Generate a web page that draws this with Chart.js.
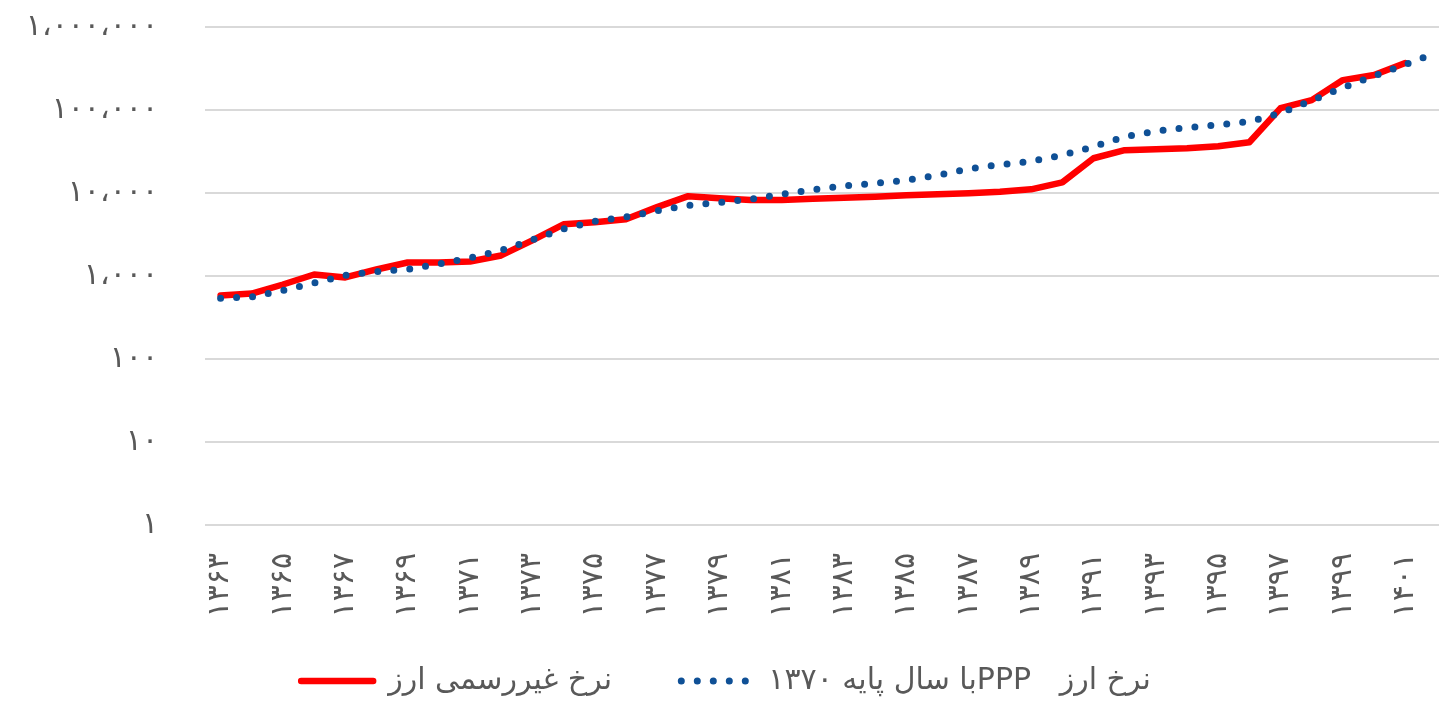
<!DOCTYPE html>
<html><head><meta charset="utf-8">
<script src="https://cdn.jsdelivr.net/npm/chart.js@4.4.1/dist/chart.umd.min.js"></script>
<style>
html,body{margin:0;padding:0;background:#fff;overflow:hidden;width:1439px;height:702px}
#wrap{width:1480px;height:702px;position:relative}
</style></head>
<body><div id="wrap"><canvas id="c"></canvas></div>
<script>
const years = ['۱۳۶۳','۱۳۶۴','۱۳۶۵','۱۳۶۶','۱۳۶۷','۱۳۶۸','۱۳۶۹','۱۳۷۰','۱۳۷۱','۱۳۷۲',
  '۱۳۷۳','۱۳۷۴','۱۳۷۵','۱۳۷۶','۱۳۷۷','۱۳۷۸','۱۳۷۹','۱۳۸۰','۱۳۸۱','۱۳۸۲',
  '۱۳۸۳','۱۳۸۴','۱۳۸۵','۱۳۸۶','۱۳۸۷','۱۳۸۸','۱۳۸۹','۱۳۹۰','۱۳۹۱','۱۳۹۲',
  '۱۳۹۳','۱۳۹۴','۱۳۹۵','۱۳۹۶','۱۳۹۷','۱۳۹۸','۱۳۹۹','۱۴۰۰','۱۴۰۱','۱۴۰۲'];
const unofficialRate = [582, 615, 790, 1043, 960, 1199, 1455, 1455, 1497, 1769,
  2685, 4190, 4430, 4840, 6760, 9160, 8670, 8210, 8210, 8550,
  8750, 8990, 9380, 9640, 9910, 10330, 11070, 13450, 26230, 32760,
  33670, 34600, 36600, 40940, 105300, 131500, 229300, 263700, 368000, null];
const pppRate = [540, 558, 668, 824, 1015, 1133, 1199, 1396, 1649, 2032,
  2723, 3697, 4553, 5157, 6092, 7100, 7700, 8390, 9640, 10920,
  12180, 13090, 14250, 16370, 19600, 21900, 24140, 28520, 36100, 47700,
  55570, 61240, 66230, 72330, 91600, 129900, 186100, 256300, 353000, 492400];
const yTickValues = [1, 10, 100, 1000, 10000, 100000, 1000000];
const yTickLabels = ['۱', '۱۰', '۱۰۰', '۱،۰۰۰', '۱۰،۰۰۰', '۱۰۰،۰۰۰', '۱،۰۰۰،۰۰۰'];
const seriesUnofficial = 'نرخ غیررسمی ارز';
const seriesPPP = 'نرخ ارز   PPPبا سال پایه ۱۳۷۰';

const FONT = '"DejaVu Sans", sans-serif';
const GREY = '#595959';
const CLEAR = 'rgba(0,0,0,0)';

new Chart(document.getElementById('c'), {
  type: 'line',
  data: {
    labels: years,
    datasets: [
      { label: seriesPPP, data: pppRate, borderColor: '#0f5096', backgroundColor: '#0f5096',
        borderWidth: 7, borderDash: [0, 16], borderCapStyle: 'round', pointRadius: 0, tension: 0, fill: false },
      { label: seriesUnofficial, data: unofficialRate, borderColor: '#ff0000', backgroundColor: '#ff0000',
        borderWidth: 6.5, borderCapStyle: 'round', borderJoinStyle: 'round', pointRadius: 0, tension: 0, fill: false }
    ]
  },
  options: {
    responsive: true,
    maintainAspectRatio: false,
    animation: false,
    layout: { padding: { top: 27, right: 28, left: 0, bottom: -4 } },
    plugins: {
      tooltip: { enabled: false },
      legend: {
        position: 'bottom',
        reverse: true,
        textDirection: 'rtl',
        labels: {
          font: { family: FONT, size: 30 },
          color: GREY,
          boxWidth: 72,
          boxHeight: 0,
          padding: 12,
          generateLabels: (chart) => {
            const items = Chart.defaults.plugins.legend.labels.generateLabels(chart);
            items.forEach(it => {
              it.fillStyle = CLEAR;
              if (it.datasetIndex === 1) it.text = '      ' + it.text;
            });
            return items;
          }
        }
      }
    },
    scales: {
      x: {
        type: 'category',
        offset: true,
        grid: { display: true, drawOnChartArea: false, drawTicks: true, tickLength: 28, tickColor: CLEAR },
        border: { display: false },
        ticks: {
          autoSkip: false,
          maxRotation: 90,
          minRotation: 90,
          padding: 0,
          color: GREY,
          font: { family: FONT, size: 30 },
          callback: (v, i) => (i % 2 === 0 ? years[i] : '')
        },
        afterFit: (s) => { s.height = 129; }
      },
      y: {
        type: 'logarithmic',
        min: 1,
        max: 1000000,
        grid: { color: '#d9d9d9', lineWidth: 2, drawTicks: true, tickLength: 47, tickColor: CLEAR },
        border: { display: false },
        afterBuildTicks: (s) => { s.ticks = yTickValues.map(v => ({ value: v })); },
        afterFit: (s) => { s.width = 205; },
        ticks: {
          padding: 0,
          color: GREY,
          font: { family: FONT, size: 30 },
          callback: (v) => { const k = yTickValues.indexOf(v); return k >= 0 ? yTickLabels[k] : ''; }
        }
      }
    }
  }
});
</script>
</body></html>
